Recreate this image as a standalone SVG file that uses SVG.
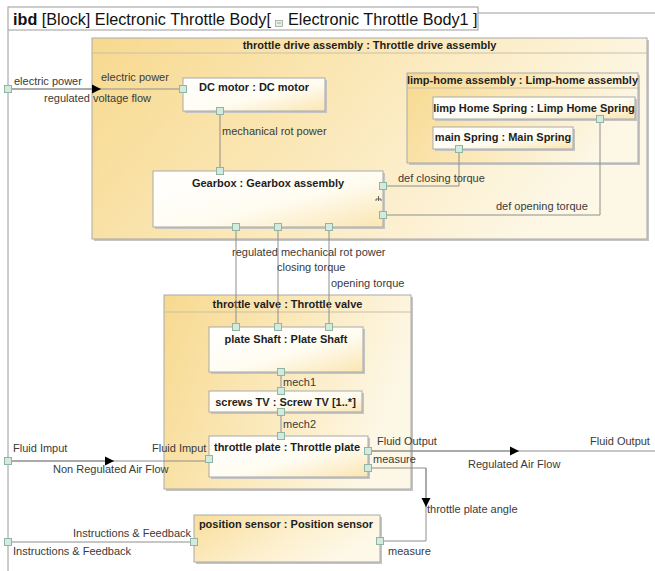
<svg xmlns="http://www.w3.org/2000/svg" width="655" height="571" viewBox="0 0 655 571">
<defs>
<linearGradient id="gOuter" x1="0" y1="0" x2="1" y2="0.3">
<stop offset="0" stop-color="#f7d98f"/>
<stop offset="0.5" stop-color="#fbe8b8"/>
<stop offset="1" stop-color="#fdf7e6"/>
</linearGradient>
<linearGradient id="gPart" x1="0" y1="0" x2="1" y2="1">
<stop offset="0" stop-color="#ffffff"/>
<stop offset="0.55" stop-color="#fffcf2"/>
<stop offset="1" stop-color="#fbe6b2"/>
</linearGradient>
<linearGradient id="gSensor" x1="0" y1="0" x2="1" y2="0.4">
<stop offset="0" stop-color="#f9de9c"/>
<stop offset="0.6" stop-color="#fdf0cf"/>
<stop offset="1" stop-color="#fef8e8"/>
</linearGradient>
<marker id="arr" viewBox="0 0 10 10" refX="10" refY="5" markerWidth="9" markerHeight="10" markerUnits="userSpaceOnUse" orient="auto">
<path d="M0,0 L10,5 L0,10 z" fill="#000"/>
</marker>
<style>
.frame{fill:none;stroke:#9a9a9a;stroke-width:1}
.shadow{fill:#c4c4c4}
.box{stroke:#a9a9a9;stroke-width:1}
.outer{fill:url(#gOuter)}
.part{fill:url(#gPart)}
.sensor{fill:url(#gSensor)}
.sep{stroke:#c9c0a8;stroke-width:1}
.port{fill:#d5eadf;stroke:#8fb5a5;stroke-width:1}
.conn{fill:none;stroke:#8e8e8e;stroke-width:1}
.lbl{font-family:"Liberation Sans",Arial,sans-serif;font-size:11px;fill:#3a3a3a}
.name{font-family:"Liberation Sans",Arial,sans-serif;font-size:11px;font-weight:bold;fill:#1e1e1e}
.title{font-family:"Liberation Sans",Arial,sans-serif;font-size:16.2px;fill:#111}
</style>
</defs>
<rect width="655" height="571" fill="#ffffff"/>

<g id="frame">
<line class="frame" x1="8" y1="30" x2="8" y2="571"/>
<line class="frame" x1="478" y1="13" x2="655" y2="13"/>
<rect class="frame" x="8" y="7" width="470" height="23"/>
<text class="title" x="13" y="25"><tspan font-weight="bold">ibd</tspan> [Block] Electronic Throttle Body[</text>
<rect x="275.5" y="20.5" width="7" height="6" fill="#e8eee8" stroke="#9aa89a" stroke-width="0.8"/>
<line x1="277" y1="23" x2="281" y2="23" stroke="#8a9a8a" stroke-width="0.8"/>
<text class="title" x="288" y="25">Electronic Throttle Body1 ]</text>
</g>

<g id="throttle-drive-assembly">
<rect class="shadow" x="94" y="40" width="555" height="201"/>
<rect class="box outer" x="92" y="38" width="555" height="201"/>
<line class="sep" x1="92" y1="53" x2="647" y2="53"/>
<text class="name" x="369.5" y="49" text-anchor="middle">throttle drive assembly : Throttle drive assembly</text>
</g>

<g id="dc-motor">
<rect class="shadow" x="185" y="80" width="142" height="33"/>
<rect class="box part" x="183" y="78" width="142" height="33"/>
<text class="name" x="254" y="91" text-anchor="middle">DC motor : DC motor</text>
</g>

<g id="gearbox">
<rect class="shadow" x="155" y="173" width="230" height="56"/>
<rect class="box part" x="153" y="171" width="230" height="56"/>
<text class="name" x="268" y="187" text-anchor="middle">Gearbox : Gearbox assembly</text>
<path d="M378.5,196 V201 M376,201 V199 H381 V201" fill="none" stroke="#555" stroke-width="0.9"/>
</g>

<g id="limp-home-assembly">
<rect class="shadow" x="409" y="75" width="231" height="90"/>
<rect class="box outer" x="407" y="73" width="231" height="90"/>
<line class="sep" x1="407" y1="88" x2="638" y2="88"/>
<text class="name" x="522.5" y="84" text-anchor="middle">limp-home assembly : Limp-home assembly</text>
</g>

<g id="limp-home-spring">
<rect class="shadow" x="435" y="99" width="202" height="22"/>
<rect class="box part" x="433" y="97" width="202" height="22"/>
<text class="name" x="534" y="112" text-anchor="middle">limp Home Spring : Limp Home Spring</text>
</g>

<g id="main-spring">
<rect class="shadow" x="435" y="129" width="140" height="22"/>
<rect class="box part" x="433" y="127" width="140" height="22"/>
<text class="name" x="503" y="141" text-anchor="middle">main Spring : Main Spring</text>
</g>

<g id="throttle-valve">
<rect class="shadow" x="166" y="297" width="247" height="194"/>
<rect class="box outer" x="164" y="295" width="247" height="194"/>
<line class="sep" x1="164" y1="312" x2="411" y2="312"/>
<text class="name" x="287.5" y="308" text-anchor="middle">throttle valve : Throttle valve</text>
</g>

<g id="plate-shaft">
<rect class="shadow" x="211" y="329" width="154" height="45"/>
<rect class="box part" x="209" y="327" width="154" height="45"/>
<text class="name" x="286" y="343" text-anchor="middle">plate Shaft : Plate Shaft</text>
</g>

<g id="screws-tv">
<rect class="shadow" x="211" y="393" width="153" height="21"/>
<rect class="box part" x="209" y="391" width="153" height="21"/>
<text class="name" x="285.5" y="406" text-anchor="middle">screws TV : Screw TV [1..*]</text>
</g>

<g id="throttle-plate">
<rect class="shadow" x="211" y="438" width="159" height="41"/>
<rect class="box part" x="209" y="436" width="159" height="41"/>
<text class="name" x="287" y="451" text-anchor="middle">throttle plate : Throttle plate</text>
</g>

<g id="position-sensor">
<rect class="shadow" x="196" y="517" width="186" height="47"/>
<rect class="box sensor" x="194" y="515" width="186" height="47"/>
<text class="name" x="286" y="528" text-anchor="middle">position sensor : Position sensor</text>
</g>

<g id="connectors">
<path class="conn" d="M8,89 H183"/>
<path class="conn" d="M8,89 H101" marker-end="url(#arr)"/>
<path class="conn" d="M220,111 V171"/>
<path class="conn" d="M383,186 H459 V149"/>
<path class="conn" d="M383,215 H600 V119"/>
<path class="conn" d="M236,227 V327"/>
<path class="conn" d="M278,227 V327"/>
<path class="conn" d="M329,227 V327"/>
<path class="conn" d="M281,372 V391"/>
<path class="conn" d="M281,412 V436"/>
<path class="conn" d="M8,461 H209"/>
<path class="conn" d="M8,461 H114" marker-end="url(#arr)"/>
<path class="conn" d="M368,451 H655"/>
<path class="conn" d="M368,451 H519" marker-end="url(#arr)"/>
<path class="conn" d="M368,468 H426 V541 H380"/>
<path class="conn" d="M426,468 V507" marker-end="url(#arr)"/>
<path class="conn" d="M8,542 H194"/>

<text class="lbl" x="14" y="85">electric power</text>
<text class="lbl" x="101" y="81">electric power</text>
<text class="lbl" x="44" y="102">regulated voltage flow</text>
<text class="lbl" x="222" y="135">mechanical rot power</text>
<text class="lbl" x="398" y="182">def closing torque</text>
<text class="lbl" x="496" y="210">def opening torque</text>
<text class="lbl" x="232" y="256">regulated mechanical rot power</text>
<text class="lbl" x="277" y="271">closing torque</text>
<text class="lbl" x="331" y="287">opening torque</text>
<text class="lbl" x="283" y="386">mech1</text>
<text class="lbl" x="283" y="428">mech2</text>
<text class="lbl" x="13" y="452">Fluid Imput</text>
<text class="lbl" x="152" y="452">Fluid Imput</text>
<text class="lbl" x="53" y="473">Non Regulated Air Flow</text>
<text class="lbl" x="377" y="445">Fluid Output</text>
<text class="lbl" x="373" y="463">measure</text>
<text class="lbl" x="468" y="468">Regulated Air Flow</text>
<text class="lbl" x="590" y="445">Fluid Output</text>
<text class="lbl" x="427" y="513">throttle plate angle</text>
<text class="lbl" x="73" y="537">Instructions &amp; Feedback</text>
<text class="lbl" x="13" y="555">Instructions &amp; Feedback</text>
<text class="lbl" x="388" y="555">measure</text>
</g>

<g id="ports">
<rect class="port" x="4.5" y="85.5" width="7" height="7"/>
<rect class="port" x="179.5" y="85.5" width="7" height="7"/>
<rect class="port" x="216.5" y="107.5" width="7" height="7"/>
<rect class="port" x="216.5" y="167.5" width="7" height="7"/>
<rect class="port" x="232.5" y="223.5" width="7" height="7"/>
<rect class="port" x="274.5" y="223.5" width="7" height="7"/>
<rect class="port" x="325.5" y="223.5" width="7" height="7"/>
<rect class="port" x="379.5" y="182.5" width="7" height="7"/>
<rect class="port" x="379.5" y="211.5" width="7" height="7"/>
<rect class="port" x="596.5" y="115.5" width="7" height="7"/>
<rect class="port" x="455.5" y="145.5" width="7" height="7"/>
<rect class="port" x="232.5" y="323.5" width="7" height="7"/>
<rect class="port" x="274.5" y="323.5" width="7" height="7"/>
<rect class="port" x="325.5" y="323.5" width="7" height="7"/>
<rect class="port" x="277.5" y="368.5" width="7" height="7"/>
<rect class="port" x="277.5" y="387.5" width="7" height="7"/>
<rect class="port" x="277.5" y="408.5" width="7" height="7"/>
<rect class="port" x="277.5" y="432.5" width="7" height="7"/>
<rect class="port" x="205.5" y="455.5" width="7" height="7"/>
<rect class="port" x="364.5" y="447.5" width="7" height="7"/>
<rect class="port" x="364.5" y="464.5" width="7" height="7"/>
<rect class="port" x="4.5" y="457.5" width="7" height="7"/>
<rect class="port" x="190.5" y="538.5" width="7" height="7"/>
<rect class="port" x="376.5" y="537.5" width="7" height="7"/>
<rect class="port" x="4.5" y="538.5" width="7" height="7"/>
</g>
</svg>
